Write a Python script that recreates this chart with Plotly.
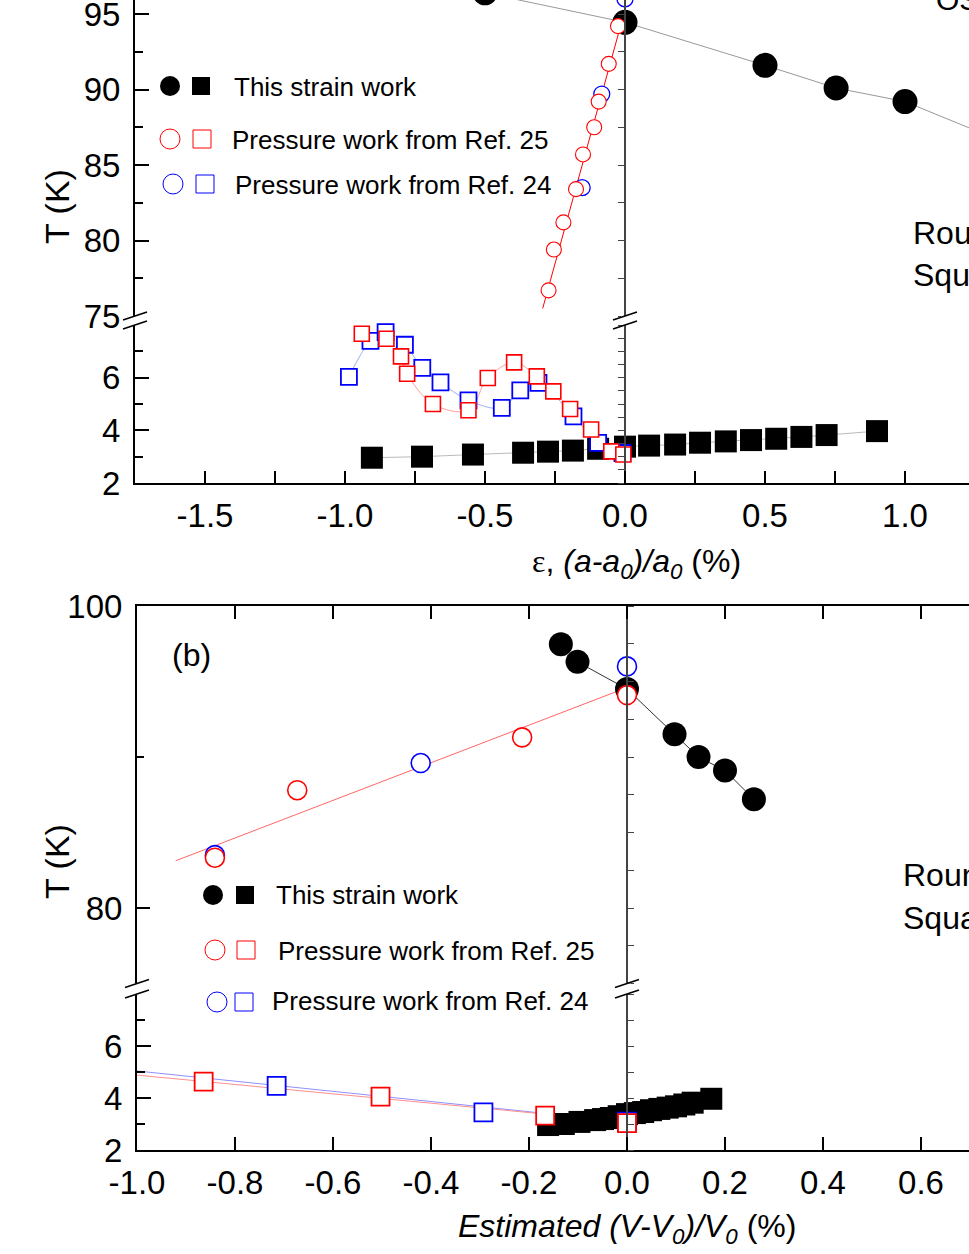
import plotly.graph_objects as go

W, H = 969, 1254
TOP = 70  # part of the figure that sits above the visible window (cropped, as in the original)
HF = H + TOP
FONT = "Liberation Sans, Arial, sans-serif"

# ---------------- panel (a) data : strain eps (%) ----------------
a_strain_circ_x = [-0.5, 0.0, 0.5, 0.754, 1.0, 1.25]
a_strain_circ_y = [96.4, 94.45, 91.6, 90.1, 89.2, 87.3]
a_ref25_circ_x = [-0.273, -0.254, -0.22, -0.175, -0.15, -0.11, -0.094, -0.058, -0.025]
a_ref25_circ_y = [76.7, 79.4, 81.2, 83.4, 85.7, 87.5, 89.2, 91.7, 94.2]
a_ref24_circ_x = [-0.153, -0.083, 0.0]
a_ref24_circ_y = [83.5, 89.7, 96.0]
a_ref25_fit_x = [-0.294, -0.01]
a_ref25_fit_y = [75.5, 94.6]

a_strain_sq_x = [-0.904, -0.725, -0.543, -0.364, -0.275, -0.186, -0.096, 0.0, 0.086,
                 0.179, 0.268, 0.36, 0.45, 0.54, 0.63, 0.72, 0.9]
a_strain_sq_y = [2.96, 3.0, 3.08, 3.15, 3.19, 3.23, 3.3, 3.38, 3.42,
                 3.46, 3.53, 3.58, 3.63, 3.68, 3.75, 3.82, 3.97]
a_ref24_sq_x = [-0.986, -0.909, -0.855, -0.786, -0.724, -0.659, -0.559, -0.44, -0.374,
                -0.309, -0.184, -0.096, -0.009]
a_ref24_sq_y = [6.03, 7.40, 7.73, 7.25, 6.37, 5.82, 5.14, 4.85, 5.52, 5.80, 4.53, 3.52, 3.14]
a_ref25_sq_x = [-0.94, -0.852, -0.80, -0.778, -0.686, -0.559, -0.49, -0.396, -0.315,
                -0.256, -0.196, -0.121, -0.049, -0.006]
a_ref25_sq_y = [7.67, 7.48, 6.81, 6.15, 5.0, 4.76, 5.99, 6.58, 6.05, 5.48, 4.81, 4.03, 3.2, 3.08]

# ---------------- panel (b) data : estimated (V-V0)/V0 (%) ----------------
b_strain_circ_x = [-0.135, -0.101, 0.0, 0.097, 0.146, 0.20, 0.259]
b_strain_circ_y = [97.46, 96.3, 94.5, 91.5, 90.0, 89.1, 87.2]
b_ref25_circ_x = [-0.841, -0.673, -0.214, 0.0]
b_ref25_circ_y = [83.33, 87.8, 91.3, 94.1]
b_ref24_circ_x = [-0.841, -0.421, 0.0]
b_ref24_circ_y = [83.5, 89.6, 96.0]
b_ref25_fit_x = [-0.921, 0.0]
b_ref25_fit_y = [83.13, 94.6]

b_strain_sq_x = [-0.161, -0.129, -0.097, -0.065, -0.049, -0.033, -0.017, 0.0, 0.016,
                 0.033, 0.049, 0.066, 0.083, 0.100, 0.117, 0.134, 0.172]
b_strain_sq_y = [2.96, 3.0, 3.08, 3.15, 3.19, 3.23, 3.3, 3.38, 3.42,
                 3.46, 3.53, 3.58, 3.63, 3.68, 3.75, 3.82, 3.97]
b_ref25_sq_x = [-0.864, -0.503, -0.167, 0.0]
b_ref25_sq_y = [4.63, 4.05, 3.32, 3.03]
b_ref24_sq_x = [-0.715, -0.293, 0.0]
b_ref24_sq_y = [4.47, 3.45, 3.09]
b_ref25_sqfit_x = [-1.0, 0.0]
b_ref25_sqfit_y = [4.88, 3.08]
b_ref24_sqfit_x = [-1.0, 0.0]
b_ref24_sqfit_y = [5.04, 3.08]

# tick labels
a_xticks = [-1.5, -1.0, -0.5, 0.0, 0.5, 1.0]
a_xticktext = ["-1.5", "-1.0", "-0.5", "0.0", "0.5", "1.0"]
b_xticks = [-1.0, -0.8, -0.6, -0.4, -0.2, 0.0, 0.2, 0.4, 0.6]
b_xticktext = ["-1.0", "-0.8", "-0.6", "-0.4", "-0.2", "0.0", "0.2", "0.4", "0.6"]
a_up_yticks = [75, 80, 85, 90, 95, 100]
b_up_yticks = [80, 100]
low_yticks = [2, 4, 6]

labels = ["This strain work", "Pressure work from Ref. 25", "Pressure work from Ref. 24"]

RED = "#ff0000"
BLUE = "#0000ff"


def P(xp):
    return xp / W


def Q(yp):
    return 1 - (yp + TOP) / HF


# axis ranges / domains (pixel layout of the original figure)
xa_range = [-1.75, -1.75 + (W - 135) / 280.0]
xb_range = [-1.0, -1.0 + (W - 137) / 490.0]
zero_a = P(135) + (0 - xa_range[0]) / (xa_range[1] - xa_range[0]) * (1 - P(135))
zero_b = P(137) + (0 - xb_range[0]) / (xb_range[1] - xb_range[0]) * (1 - P(137))

fig = go.Figure()


def line(x, y, xa, ya, color, width=1.0, shape="linear"):
    fig.add_trace(go.Scatter(x=x, y=y, xaxis=xa, yaxis=ya, mode="lines",
                             line=dict(color=color, width=width, shape=shape),
                             hoverinfo="skip", cliponaxis=False))


def pts(x, y, xa, ya, symbol, size, color, filled, lw=1.5):
    fig.add_trace(go.Scatter(
        x=x, y=y, xaxis=xa, yaxis=ya, mode="markers", cliponaxis=False,
        marker=dict(symbol=symbol, size=size,
                    color=color if filled else "white",
                    line=dict(color=color, width=0 if filled else lw))))


# ---- panel (a) upper ----
line(a_strain_circ_x, a_strain_circ_y, "x", "y", "#999999", 1)
line(a_ref25_fit_x, a_ref25_fit_y, "x", "y", RED, 1)
pts(a_strain_circ_x, a_strain_circ_y, "x", "y", "circle", 25, "black", True)
pts(a_ref24_circ_x, a_ref24_circ_y, "x", "y", "circle", 16, BLUE, False, 1.3)
pts(a_ref25_circ_x, a_ref25_circ_y, "x", "y", "circle", 15, RED, False, 1.1)

# ---- panel (a) lower ----
line(a_strain_sq_x, a_strain_sq_y, "x", "y2", "#bbbbbb", 1)
line(a_ref24_sq_x, a_ref24_sq_y, "x", "y2", "#9fb0ee", 1, "spline")
line(a_ref25_sq_x, a_ref25_sq_y, "x", "y2", "#ff9f9f", 1, "spline")
pts(a_strain_sq_x, a_strain_sq_y, "x", "y2", "square", 22, "black", True)
pts(a_ref24_sq_x, a_ref24_sq_y, "x", "y2", "square", 16, BLUE, False, 1.8)
pts(a_ref25_sq_x, a_ref25_sq_y, "x", "y2", "square", 15, RED, False, 1.6)

# ---- panel (b) upper ----
line(b_strain_circ_x[1:], b_strain_circ_y[1:], "x2", "y5", "#333333", 1)
line(b_ref25_fit_x, b_ref25_fit_y, "x2", "y5", "#ff6666", 1)
pts(b_strain_circ_x, b_strain_circ_y, "x2", "y5", "circle", 24, "black", True)
pts(b_ref24_circ_x, b_ref24_circ_y, "x2", "y5", "circle", 19, BLUE, False, 1.6)
pts(b_ref25_circ_x, b_ref25_circ_y, "x2", "y5", "circle", 19, RED, False, 1.6)

# ---- panel (b) lower ----
line(b_ref24_sqfit_x, b_ref24_sqfit_y, "x2", "y6", "#8f8fff", 1)
line(b_ref25_sqfit_x, b_ref25_sqfit_y, "x2", "y6", "#ff8f8f", 1)
pts(b_strain_sq_x, b_strain_sq_y, "x2", "y6", "square", 22, "black", True)
pts(b_ref24_sq_x, b_ref24_sq_y, "x2", "y6", "square", 18, BLUE, False, 1.8)
pts(b_ref25_sq_x, b_ref25_sq_y, "x2", "y6", "square", 18, RED, False, 1.8)

# empty traces so the overlay axes get drawn
for xa, ya in [("x", "y3"), ("x", "y4"), ("x2", "y7"), ("x2", "y8"), ("x3", "y5")]:
    fig.add_trace(go.Scatter(x=[None], y=[None], xaxis=xa, yaxis=ya, hoverinfo="skip"))

tickfont = dict(family=FONT, size=33, color="black")
base = dict(showgrid=False, zeroline=False, showline=True, linecolor="black",
            linewidth=2, ticks="inside", tickcolor="black", tickwidth=1.5,
            tickfont=tickfont, automargin=False, ticklabeloverflow="allow")


def minor(dtick, tick0, length):
    return dict(tickmode="linear", tick0=tick0, dtick=dtick, ticks="inside",
                ticklen=length, tickcolor="black", tickwidth=1.5)


def zero_axis(overlay, rng, pos, side, dtick):
    return dict(overlaying=overlay, anchor="free", position=pos, side=side,
                range=rng, showgrid=False, zeroline=False, showline=True,
                linecolor="#444444", linewidth=1.5, ticks="outside", ticklen=6,
                tickcolor="#444444", tickwidth=1.2, tickmode="linear", tick0=0,
                dtick=dtick, showticklabels=False, automargin=False)


fig.update_layout(
    width=W, height=HF, showlegend=False, template="none",
    margin=dict(l=0, r=0, t=0, b=0, pad=0),
    paper_bgcolor="white", plot_bgcolor="rgba(0,0,0,0)",
    font=dict(family=FONT, color="black"),
    xaxis=dict(base, domain=[P(135), 1], range=xa_range, anchor="y2",
               tickmode="array", tickvals=a_xticks, ticktext=a_xticktext,
               ticklen=12, ticklabelstandoff=2, minor=minor(0.25, 0, 12)),
    yaxis=dict(base, domain=[Q(316), Q(316 - 25 * 15.1)], range=[75, 100], anchor="x",
               tickmode="array", tickvals=a_up_yticks, ticklen=14,
               ticklabelstandoff=6, minor=minor(2.5, 75, 8)),
    yaxis2=dict(base, domain=[Q(483), Q(325)], range=[2, 8], anchor="x",
                tickmode="array", tickvals=low_yticks, ticklen=14,
                ticklabelstandoff=6, minor=minor(1, 2, 8)),
    yaxis3=zero_axis("y", [75, 100], zero_a, "left", 2.5),
    yaxis4=zero_axis("y2", [2, 8], zero_a, "left", 0.5),
    xaxis2=dict(base, domain=[P(137), 1], range=xb_range, anchor="y6",
                tickmode="array", tickvals=b_xticks, ticktext=b_xticktext,
                ticklen=13, ticklabelstandoff=2),
    xaxis3=dict(base, overlaying="x2", anchor="y5", side="top", range=xb_range,
                tickmode="array", tickvals=b_xticks, ticklen=13,
                showticklabels=False),
    yaxis5=dict(base, domain=[Q(983.5), Q(606)], range=[75, 100], anchor="x2",
                tickmode="array", tickvals=b_up_yticks, ticklen=13,
                ticklabelstandoff=6, minor=minor(10, 0, 7)),
    yaxis6=dict(base, domain=[Q(1150), Q(994)], range=[2, 8], anchor="x2",
                tickmode="array", tickvals=low_yticks, ticklen=14,
                ticklabelstandoff=6, minor=minor(1, 2, 8)),
    yaxis7=zero_axis("y5", [75, 100], zero_b, "right", 2.5),
    yaxis8=zero_axis("y6", [2, 8], zero_b, "right", 1),
)

# ---- axis break marks ----
shapes = []
for xp, (ytop, ybot) in [(135, (316, 325)), (625, (316, 325)),
                         (137, (983.5, 994)), (627, (983.5, 994))]:
    shapes.append(dict(type="rect", xref="paper", yref="paper",
                       x0=P(xp - 4), x1=P(xp + 4), y0=Q(ybot), y1=Q(ytop),
                       fillcolor="white", line=dict(width=0), layer="above"))
    for yy in (ytop, ybot):
        shapes.append(dict(type="line", xref="paper", yref="paper",
                           x0=P(xp - 12), y0=Q(yy + 4), x1=P(xp + 12), y1=Q(yy - 4),
                           line=dict(color="black", width=1.5), layer="above"))

# ---- legend symbols ----
legend_a = [(170, 201, 86, "black", True), (170, 202, 139, RED, False), (173, 205, 184, BLUE, False)]
legend_b = [(213, 245, 895, "black", True), (215, 246, 950, RED, False), (217, 244, 1002, BLUE, False)]
for cx, sx, cy, col, filled in legend_a + legend_b:
    fill = col if filled else "rgba(0,0,0,0)"
    lw = 0 if filled else 1
    shapes.append(dict(type="circle", xref="paper", yref="paper",
                       xsizemode="pixel", ysizemode="pixel",
                       xanchor=P(cx), yanchor=Q(cy), x0=-10, x1=10, y0=-10, y1=10,
                       fillcolor=fill, line=dict(color=col, width=lw)))
    shapes.append(dict(type="rect", xref="paper", yref="paper",
                       xsizemode="pixel", ysizemode="pixel",
                       xanchor=P(sx), yanchor=Q(cy), x0=-9, x1=9, y0=-9, y1=9,
                       fillcolor=fill, line=dict(color=col, width=lw)))
fig.update_layout(shapes=shapes)

# ---- text ----
ann = []


def text(s, x, y, size, xanchor="left", angle=0):
    ann.append(dict(text=s, x=P(x), y=Q(y), xref="paper", yref="paper",
                    xanchor=xanchor, yanchor="middle", showarrow=False,
                    textangle=angle, font=dict(family=FONT, size=size, color="black")))


text(labels[0], 232, 87, 26)
text(labels[1], 230, 140, 26)
text(labels[2], 233, 185, 26)
text(labels[0], 274, 895, 26)
text(labels[1], 276, 951, 26)
text(labels[2], 270, 1001, 26)

text("T (K)", 57, 207, 34, "center", -90)
text("T (K)", 57, 862, 34, "center", -90)
text("<span style='font-family:Liberation Serif'>ε</span>, <i>(a-a<sub>0</sub>)/a<sub>0</sub></i> (%)",
     636, 563, 32, "center")
text("<i>Estimated (V-V<sub>0</sub>)/V<sub>0</sub></i> (%)", 627, 1228, 32, "center")
text("(b)", 191, 655, 32, "center")

text("Round: T<sub>c</sub>", 911, 235, 32)
text("Square: T<sub>c</sub>", 911, 278, 32)
text("Round: T<sub>c</sub>", 901, 877, 32)
text("Square: T<sub>c</sub>", 901, 920, 32)
text("OS", 934, -1, 30)

fig.update_layout(annotations=ann)

fig.write_html(
    "out.html",
    config={"displayModeBar": False},
    post_script=("document.body.style.margin='0';"
                 "document.body.style.marginTop='-%dpx';"
                 "document.body.style.overflow='hidden';" % TOP),
)
